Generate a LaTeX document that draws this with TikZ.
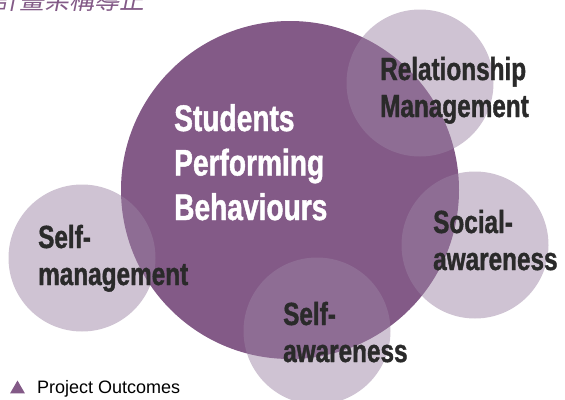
\documentclass[tikz,border=0pt]{standalone}
\usepackage{fontspec}
\usetikzlibrary{positioning,shapes.geometric}
\setmainfont{Liberation Sans}
\newfontfamily\condfont[FakeStretch=0.76,FakeBold=1.2]{Liberation Sans}
\newfontfamily\cjk[FakeSlant=0.2]{Noto Sans CJK TC}
\definecolor{outcome}{HTML}{835A87}
\definecolor{skillfill}{RGB}{155,130,163}
\definecolor{darktext}{HTML}{2A2A2A}

\begin{document}
\begin{tikzpicture}[
    x=1pt, y=-1pt,
    outcomecircle/.style={circle, fill=outcome, minimum size=338pt, inner sep=0pt},
    skillcircle/.style={circle, fill=skillfill, fill opacity=0.48, minimum size=147pt, inner sep=0pt},
    maintext/.style={anchor=base west, inner sep=0pt, align=left, text=white, font=\condfont\bfseries\fontsize{37}{44.5}\selectfont},
    skilltext/.style={anchor=base west, inner sep=0pt, align=left, text=darktext, font=\condfont\bfseries\fontsize{32}{37}\selectfont}
]
\useasboundingbox (0,0) rectangle (565,399);
\begin{scope}
\clip (0,0) rectangle (565,399);

% header (cut off at the top)
\node[anchor=base west, inner sep=0pt, text=outcome, font=\cjk\fontsize{25}{25}\selectfont] (header) at (-6,9) {計畫架構導正};

% circles
\node[outcomecircle] (outcome) at (290,190) {};
\node[skillcircle] (relcircle) at (420,83) {};
\node[skillcircle] (soccircle) at (475,245) {};
\node[skillcircle] (awarecircle) at (317,331) {};
\node[skillcircle] (mancircle) at (82,258) {};
\end{scope}

% texts (base = last line)
\node[maintext] (outcometext) at (174,220) {Students\\Performing\\Behaviours};
\node[skilltext] (reltext) at (380,117) {Relationship\\Management};
\node[skilltext] (soctext) at (433,270) {Social-\\awareness};
\node[skilltext] (awaretext) at (283,362) {Self-\\awareness};
\node[skilltext] (mantext) at (38,285) {Self-\\management};

% legend
\node[regular polygon, regular polygon sides=3, fill=outcome, inner sep=0pt, minimum size=17pt] (legendmark) at (17.5,389) {};
\node[anchor=base west, inner sep=0pt, font=\fontsize{18}{18}\selectfont] (legendtext) at (37,393) {Project Outcomes};
\end{tikzpicture}
\end{document}
